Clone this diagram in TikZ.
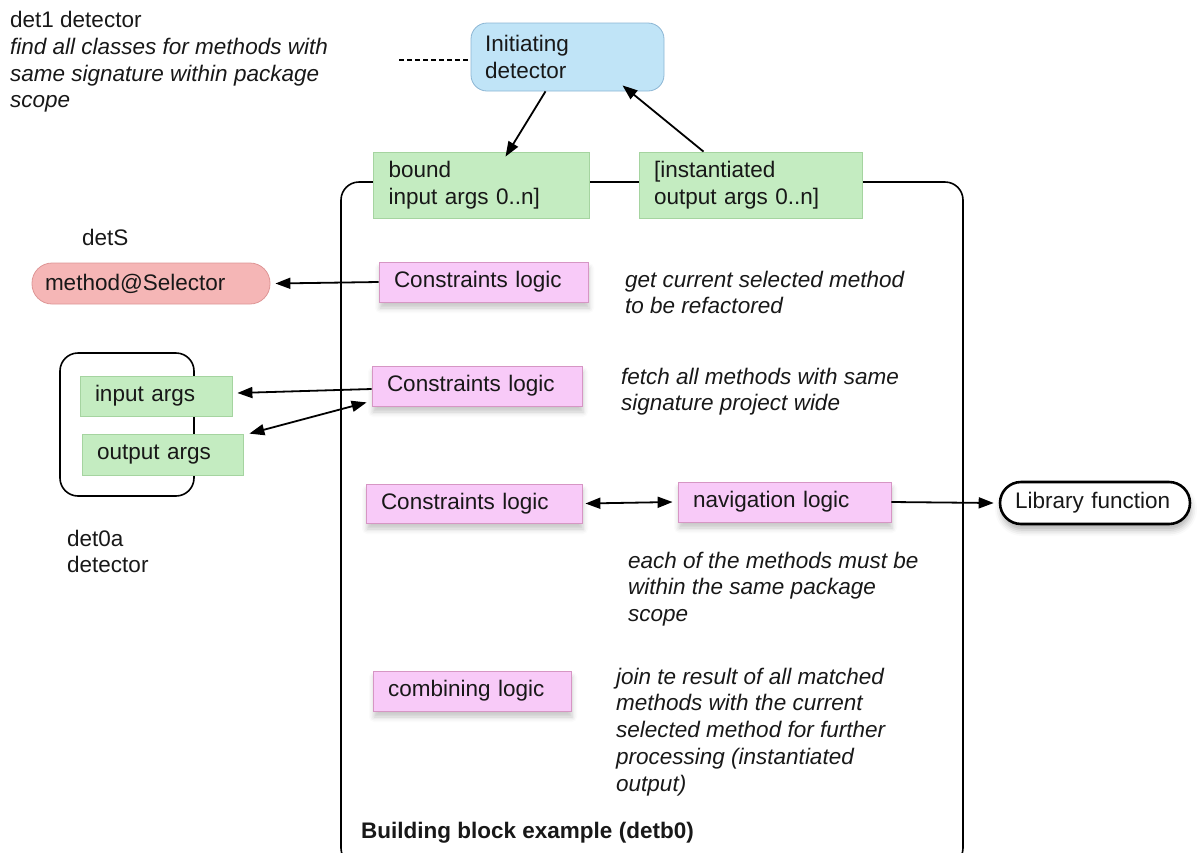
\documentclass[tikz,border=0pt]{standalone}
\usepackage{fontspec}
\setmainfont{Liberation Sans}
\usetikzlibrary{arrows.meta,shadows.blur}

\definecolor{greenfill}{RGB}{196,236,193}
\definecolor{greenline}{RGB}{165,212,160}
\definecolor{pinkfill}{RGB}{248,202,248}
\definecolor{pinkline}{RGB}{214,150,196}
\definecolor{redfill}{RGB}{245,182,182}
\definecolor{redline}{RGB}{222,150,150}
\definecolor{bluefill}{RGB}{192,228,247}
\definecolor{blueline}{RGB}{140,182,212}
\definecolor{ink}{RGB}{24,24,24}

\begin{document}
\begin{tikzpicture}[x=1pt,y=-1pt,
  txt/.style={font=\fontsize{22.5}{26.8}\selectfont, text=ink, inner sep=0pt, align=left},
  % multi-line texts are placed by the top of their first line
  note/.style={txt, font=\fontsize{22.5}{26.8}\selectfont\itshape, anchor=north west},
  plain/.style={txt, anchor=north west},
  blk/.style={txt, rectangle, inner xsep=15pt, inner ysep=0pt, line width=0.8pt},
  gbox/.style={blk, draw=greenline, fill=greenfill},
  pbox/.style={blk, draw=pinkline, fill=pinkfill,
    blur shadow={shadow xshift=1pt, shadow yshift=-6pt, shadow blur radius=5pt, shadow opacity=22}},
  arr/.style={line width=1.8pt, -{Triangle[length=15pt,width=11pt]}},
  dblarr/.style={line width=1.8pt, {Triangle[length=15pt,width=11pt]}-{Triangle[length=15pt,width=11pt]}}
]
\useasboundingbox (0,0) rectangle (1202,852);

% building block frame
\draw[line width=1.6pt, rounded corners=18pt] (341,182) rectangle (963,866);

% header notes
\node[plain] (det1) at (10,11) {det1 detector\\ \itshape find all classes for methods with\\ \itshape same signature within package\\ \itshape scope};
\node[plain] (dets) at (82,228.5) {detS};
\node[plain] (det0a) at (67,529.5) {det0a\\detector};

% initiating detector and its argument ports
\node[blk, draw=blueline, fill=bluefill, rounded corners=16pt, inner xsep=14pt,
      text width=165pt, minimum height=68pt] (init) at (567.5,57) {Initiating\\detector};
\coordinate (dashL) at (399,60);
\draw[line width=1.1pt, dash pattern=on 5pt off 3pt] (dashL) -- (dashL -| init.west);

\node[gbox, text width=186pt, minimum height=66pt] (bound) at (481.5,185) {bound\\input args 0..n]};
\node[gbox, text width=193pt, minimum height=66pt] (inst) at (750.5,185) {[instantiated\\output args 0..n]};

% selector
\node[txt, rectangle, rounded corners=20pt, draw=redline, fill=redfill, line width=0.8pt,
      inner xsep=13pt, text width=212pt, minimum height=41pt] (sel) at (151,283.5) {method@Selector};

% det0a detector with its ports
\draw[line width=1.6pt, rounded corners=18pt] (60,353) rectangle (194,496);
\node[gbox, text width=122pt, minimum height=40pt] (inp) at (156,396) {input args};
\node[gbox, text width=131pt, minimum height=41pt] (outp) at (162.5,454.5) {output args};

% logic blocks
\node[pbox, text width=179pt, minimum height=40pt] (c1) at (483.5,282) {Constraints logic};
\node[pbox, text width=180pt, minimum height=40pt] (c2) at (477,386) {Constraints logic};
\node[pbox, text width=186pt, minimum height=39pt] (c3) at (474,503.5) {Constraints logic};
\node[pbox, text width=183pt, minimum height=40pt] (nav) at (784.5,502) {navigation logic};
\node[pbox, text width=168pt, minimum height=40pt] (comb) at (472,691) {combining logic};

% library function
\node[txt, rectangle, rounded corners=21pt, draw=black, fill=white, line width=2.6pt,
      inner xsep=15pt, text width=160pt, minimum height=42pt,
      blur shadow={shadow xshift=1pt, shadow yshift=-6pt, shadow blur radius=6pt, shadow opacity=30}]
      (lib) at (1095,503) {Library function};

% explanatory notes
\node[note] (n1) at (625,270.5) {get current selected method\\to be refactored};
\node[note] (n2) at (621,367.5) {fetch all methods with same\\signature project wide};
\node[note] (n3) at (628,551.5) {each of the methods must be\\within the same package\\scope};
\node[note] (n4) at (616,667.5) {join te result of all matched\\methods with the current\\selected method for further\\processing (instantiated\\output)};
\node[txt, font=\fontsize{22.5}{26.8}\selectfont\bfseries, anchor=base west] (title) at (361,838) {Building block example (detb0)};

% connectors
\draw[arr] ([xshift=-22pt]init.south) -- ([xshift=24pt,yshift=-5pt]bound.north);
\draw[arr] ([xshift=-47pt]inst.north) -- ([xshift=55pt,yshift=6pt]init.south);
\draw[arr] (c1.west) -- ([xshift=5pt]sel.east);
\draw[arr] ([yshift=-3pt]c2.west) -- ([xshift=5pt,yshift=3pt]inp.east);
\draw[dblarr] ([xshift=6pt]outp.north east) -- ([xshift=-5pt,yshift=4pt]c2.south west);
\draw[dblarr] ([xshift=3pt]c3.east) -- ([xshift=-5pt]nav.west);
\draw[arr] (nav.east) -- ([xshift=-5pt]lib.west);
\end{tikzpicture}
\end{document}
